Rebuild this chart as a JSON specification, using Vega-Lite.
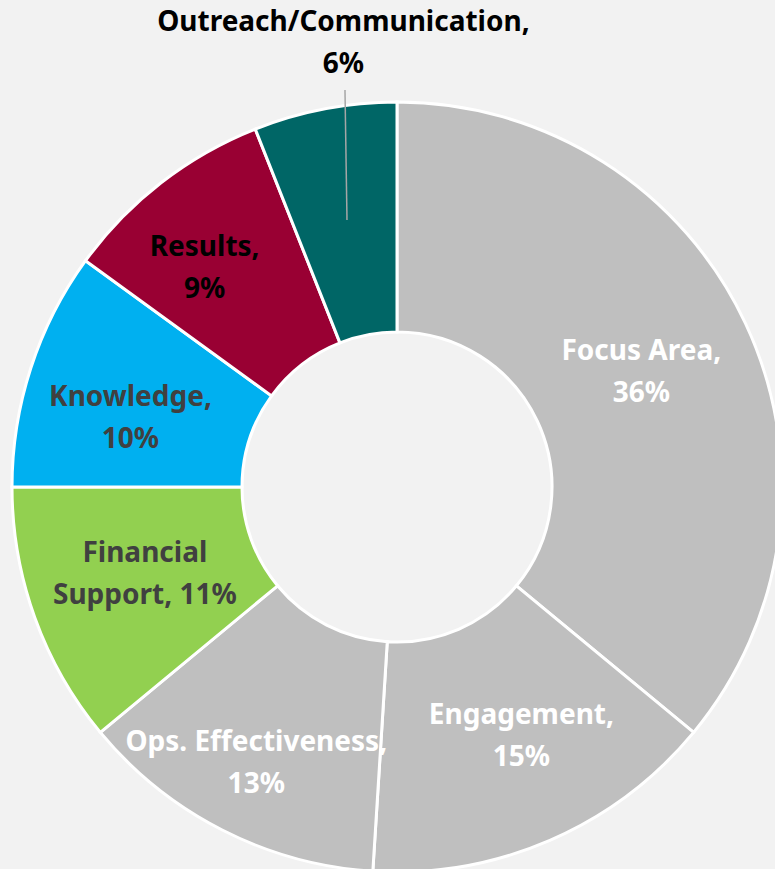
{
  "$schema": "https://vega.github.io/schema/vega-lite/v6.json",
  "width": 794,
  "height": 974,
  "autosize": {"type": "none"},
  "padding": 0,
  "background": "#F2F2F2",
  "config": {
    "view": {"stroke": null},
    "text": {"font": "Noto Sans", "fontWeight": "bold", "fontSize": 28, "lineBreak": "\n", "lineHeight": 42, "align": "center", "baseline": "middle"}
  },
  "data": {
    "values": [
      {"rank": 1, "category": "Focus Area", "value": 36, "label": "Focus Area,\n36%"},
      {"rank": 2, "category": "Engagement", "value": 15, "label": "Engagement,\n15%"},
      {"rank": 3, "category": "Ops. Effectiveness", "value": 13, "label": "Ops. Effectiveness,\n13%"},
      {"rank": 4, "category": "Financial Support", "value": 11, "label": "Financial\nSupport, 11%"},
      {"rank": 5, "category": "Knowledge", "value": 10, "label": "Knowledge,\n10%"},
      {"rank": 6, "category": "Results", "value": 9, "label": "Results,\n9%"},
      {"rank": 7, "category": "Outreach/Communication", "value": 6, "label": "Outreach/Communication,\n6%"}
    ]
  },
  "layer": [
    {
      "mark": {"type": "arc", "outerRadius": 385, "innerRadius": 155, "stroke": "#FFFFFF", "strokeWidth": 3},
      "encoding": {
        "theta": {"field": "value", "type": "quantitative", "stack": true, "scale": {"domain": [0, 100]}},
        "order": {"field": "rank", "type": "quantitative"},
        "color": {
          "field": "category", "type": "nominal", "legend": null,
          "scale": {
            "domain": ["Focus Area", "Engagement", "Ops. Effectiveness", "Financial Support", "Knowledge", "Results", "Outreach/Communication"],
            "range": ["#BFBFBF", "#BFBFBF", "#BFBFBF", "#92D050", "#00B0F0", "#990033", "#006666"]
          }
        }
      }
    },
    {
      "data": {"values": [{"x_in": -0.1299, "y_in": 0.6935, "x_out": -0.1351, "y_out": 1.0312}]},
      "mark": {"type": "rule", "stroke": "#A6A6A6", "strokeWidth": 1.5},
      "encoding": {
        "x": {"field": "x_in", "type": "quantitative", "axis": null, "scale": {"domain": [-1.0312, 1.0312], "nice": false, "zero": false}},
        "y": {"field": "y_in", "type": "quantitative", "axis": null, "scale": {"domain": [-1.2649, 1.2649], "nice": false, "zero": false}},
        "x2": {"field": "x_out"},
        "y2": {"field": "y_out"}
      }
    },
    {
      "mark": {"type": "text", "radius": 270, "dy": -20, "fill": "#FFFFFF"},
      "encoding": {
        "theta": {"field": "value", "type": "quantitative", "stack": true},
        "order": {"field": "rank", "type": "quantitative"},
        "text": {"condition": {"test": "datum.category === 'Focus Area'", "field": "label"}, "value": ""}
      }
    },
    {
      "mark": {"type": "text", "radius": 278, "dx": 14, "dy": -26, "fill": "#FFFFFF"},
      "encoding": {
        "theta": {"field": "value", "type": "quantitative", "stack": true},
        "order": {"field": "rank", "type": "quantitative"},
        "text": {"condition": {"test": "datum.category === 'Engagement'", "field": "label"}, "value": ""}
      }
    },
    {
      "mark": {"type": "text", "radius": 310, "dy": -20, "fill": "#FFFFFF"},
      "encoding": {
        "theta": {"field": "value", "type": "quantitative", "stack": true},
        "order": {"field": "rank", "type": "quantitative"},
        "text": {"condition": {"test": "datum.category === 'Ops. Effectiveness'", "field": "label"}, "value": ""}
      }
    },
    {
      "mark": {"type": "text", "radius": 268, "dy": -24, "fill": "#404040"},
      "encoding": {
        "theta": {"field": "value", "type": "quantitative", "stack": true},
        "order": {"field": "rank", "type": "quantitative"},
        "text": {"condition": {"test": "datum.category === 'Financial Support'", "field": "label"}, "value": ""}
      }
    },
    {
      "mark": {"type": "text", "radius": 275, "dx": -5, "dy": -4, "fill": "#404040"},
      "encoding": {
        "theta": {"field": "value", "type": "quantitative", "stack": true},
        "order": {"field": "rank", "type": "quantitative"},
        "text": {"condition": {"test": "datum.category === 'Knowledge'", "field": "label"}, "value": ""}
      }
    },
    {
      "mark": {"type": "text", "radius": 291, "dx": -14, "dy": -9, "fill": "#000000"},
      "encoding": {
        "theta": {"field": "value", "type": "quantitative", "stack": true},
        "order": {"field": "rank", "type": "quantitative"},
        "text": {"condition": {"test": "datum.category === 'Results'", "field": "label"}, "value": ""}
      }
    },
    {
      "mark": {"type": "text", "radius": 446, "dx": 30, "dy": -26, "fill": "#000000"},
      "encoding": {
        "theta": {"field": "value", "type": "quantitative", "stack": true},
        "order": {"field": "rank", "type": "quantitative"},
        "text": {"condition": {"test": "datum.category === 'Outreach/Communication'", "field": "label"}, "value": ""}
      }
    }
  ]
}
